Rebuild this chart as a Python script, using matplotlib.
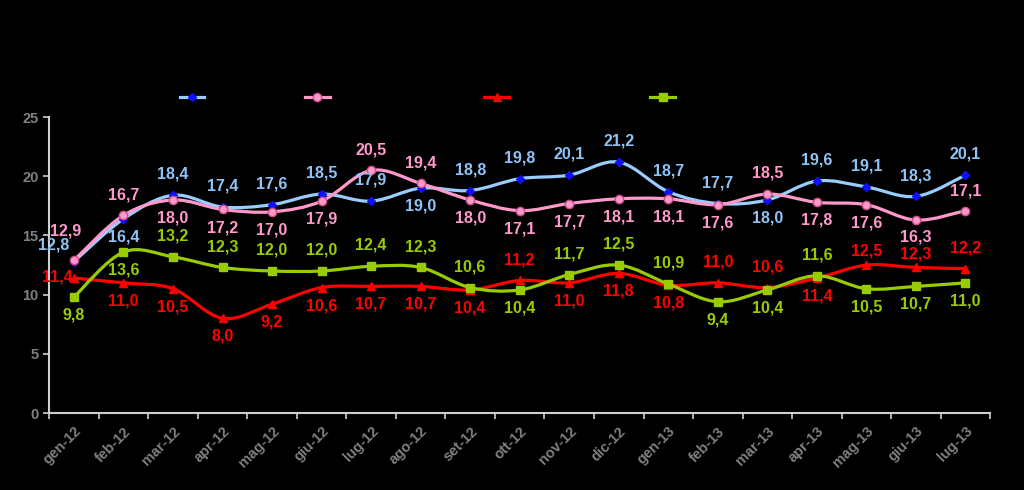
import numpy as np
import matplotlib.pyplot as plt
from matplotlib.path import Path
from matplotlib.patches import PathPatch
from matplotlib.lines import Line2D

months = ['gen-12', 'feb-12', 'mar-12', 'apr-12', 'mag-12', 'giu-12', 'lug-12',
          'ago-12', 'set-12', 'ott-12', 'nov-12', 'dic-12', 'gen-13', 'feb-13',
          'mar-13', 'apr-13', 'mag-13', 'giu-13', 'lug-13']

blue = [12.8, 16.4, 18.4, 17.4, 17.6, 18.5, 17.9, 19.0, 18.8, 19.8, 20.1, 21.2,
        18.7, 17.7, 18.0, 19.6, 19.1, 18.3, 20.1]
pink = [12.9, 16.7, 18.0, 17.2, 17.0, 17.9, 20.5, 19.4, 18.0, 17.1, 17.7, 18.1,
        18.1, 17.6, 18.5, 17.8, 17.6, 16.3, 17.1]
red = [11.4, 11.0, 10.5, 8.0, 9.2, 10.6, 10.7, 10.7, 10.4, 11.2, 11.0, 11.8,
       10.8, 11.0, 10.6, 11.4, 12.5, 12.3, 12.2]
green = [9.8, 13.6, 13.2, 12.3, 12.0, 12.0, 12.4, 12.3, 10.6, 10.4, 11.7, 12.5,
         10.9, 9.4, 10.4, 11.6, 10.5, 10.7, 11.0]

# label placement: a = above, b = below, c = close above,
# A = high above-left, u = up-left, l = left, s = slightly below
blue_pos = 'ubaaaaabaaaaaabaaaa'
pink_pos = 'AabbbbaabbbbbbabbsS'
red_pos = 'lbbbbbbbbabbbaabcca'
green_pos = 'bbaaaaaaabaaabbabbb'

offsets = {
    'a': ((0, 15), 'center'),
    'b': ((0, -13), 'center'),
    's': ((0, -12), 'center'),
    'S': ((0, 14), 'center'),
    'c': ((0, 10), 'center'),
    'A': ((-6, 21), 'center'),
    'u': ((-3, 12), 'right'),
    'l': ((-1, 1), 'right'),
}


def smooth_path(xs, ys):
    # excel-style smoothed line (cubic bezier segments)
    pts = np.column_stack([xs, ys]).astype(float)
    n = len(pts)
    verts = [pts[0]]
    codes = [Path.MOVETO]
    for i in range(n - 1):
        p0 = pts[i - 1] if i > 0 else pts[i]
        p1 = pts[i]
        p2 = pts[i + 1]
        p3 = pts[i + 2] if i + 2 < n else pts[i + 1]
        c1 = p1 + (p2 - p0) / 6.0
        c2 = p2 - (p3 - p1) / 6.0
        verts += [c1, c2, p2]
        codes += [Path.CURVE4] * 3
    return Path(verts, codes)


fig = plt.figure(figsize=(10.24, 4.9), dpi=100, facecolor='black')
ax = fig.add_axes([0.048, 0.157, 0.919, 0.604])
ax.set_facecolor('black')

x = np.arange(len(months))
series = [
    (blue, '#99ccff', '#8fc3f5', 'D', '#1010ff', '#1010ff', 4, blue_pos),
    (pink, '#ff99cc', '#ff99cc', 'o', '#ff99cc', '#cc4d88', 6, pink_pos),
    (red, '#ff0000', '#ff0000', '^', '#ff0000', '#ff0000', 6, red_pos),
    (green, '#99cc00', '#99cc00', 's', '#99cc00', '#99cc00', 6, green_pos),
]

# legend samples (labels are not visible in the original)
legend_x = [0.1875, 0.31, 0.485, 0.647]
legend_y = 0.802

for (vals, lc, tc, mk, mfc, mec, ms, pos), lx in zip(series, legend_x):
    ax.add_patch(PathPatch(smooth_path(x, vals), facecolor='none',
                           edgecolor=lc, lw=2.3, zorder=3))
    ax.plot(x, vals, ls='none', marker=mk, ms=ms, mfc=mfc, mec=mec,
            mew=1, zorder=4)
    fig.add_artist(Line2D([lx - 0.012, lx + 0.012], [legend_y, legend_y],
                          transform=fig.transFigure, color=lc, lw=2.3))
    fig.add_artist(Line2D([lx], [legend_y], transform=fig.transFigure,
                          ls='none', marker=mk, ms=ms, mfc=mfc, mec=mec))
    for xi, v, p in zip(x, vals, pos):
        txt = f'{v:.1f}'.replace('.', ',')
        off, ha = offsets[p]
        ax.annotate(txt, (xi, v), xytext=off, textcoords='offset points',
                    ha=ha, va='center', color=tc, fontsize=11.5,
                    fontweight='bold', fontfamily='Liberation Sans', zorder=5)

ax.set_xlim(-0.5, len(months) - 0.5)
ax.set_ylim(0, 25)
ax.set_yticks([0, 5, 10, 15, 20, 25])
ax.set_xticks(x)
ax.set_xticklabels(months, rotation=45, ha='right', rotation_mode='anchor')
ax.set_xticks(np.arange(-0.5, len(months)), minor=True)
ax.tick_params(axis='x', which='major', length=0, pad=8, colors='#808080',
               labelsize=10.5)
ax.tick_params(axis='x', which='minor', length=4, color='#d0d0d0', width=1.2)
ax.tick_params(axis='y', length=4, color='#d0d0d0', width=1.2,
               colors='#808080', labelsize=10.5)
ax.tick_params(axis='y', color='#d0d0d0')
for lab in ax.get_xticklabels() + ax.get_yticklabels():
    lab.set_fontweight('bold')
    lab.set_fontfamily('Liberation Sans')

for s in ['top', 'right']:
    ax.spines[s].set_visible(False)
for s in ['left', 'bottom']:
    ax.spines[s].set_color('#d0d0d0')
    ax.spines[s].set_linewidth(1.5)

fig.savefig('out.png', dpi=100, facecolor='black')
